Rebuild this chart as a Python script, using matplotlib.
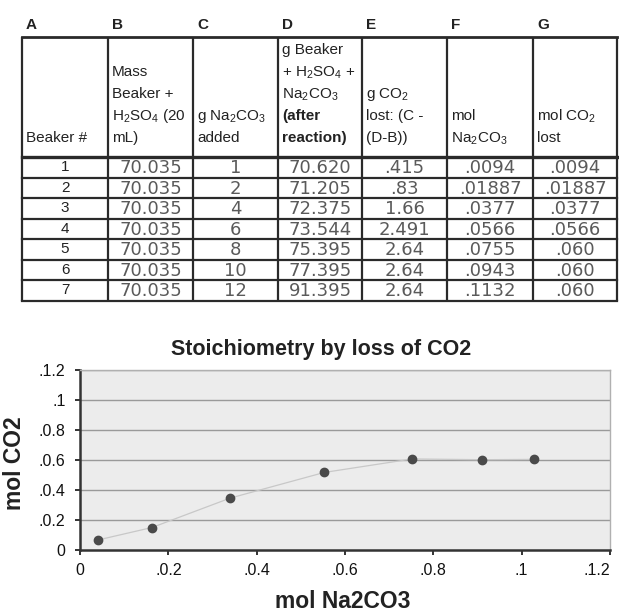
import matplotlib.pyplot as plt

plt.rcParams['font.family'] = ['Liberation Sans', 'DejaVu Sans']
plt.rcParams['mathtext.fontset'] = 'custom'
plt.rcParams['mathtext.rm'] = 'Liberation Sans'
plt.rcParams['mathtext.bf'] = 'Liberation Sans:bold'

# 表格内容
col_letters = ['A', 'B', 'C', 'D', 'E', 'F', 'G']
headers = [
    ['Beaker #'],
    ['Mass', 'Beaker +', r'H$_2$SO$_4$ (20', 'mL)'],
    [r'g Na$_2$CO$_3$', 'added'],
    ['g Beaker', r'+ H$_2$SO$_4$ +', r'Na$_2$CO$_3$', '(after', 'reaction)'],
    [r'g CO$_2$', 'lost: (C -', '(D-B))'],
    ['mol', r'Na$_2$CO$_3$'],
    [r'mol CO$_2$', 'lost'],
]
bold_lines = ['(after', 'reaction)']

beaker = ['1', '2', '3', '4', '5', '6', '7']
mass_beaker_acid = ['70.035', '70.035', '70.035', '70.035', '70.035', '70.035', '70.035']
g_na2co3_added = ['1', '2', '4', '6', '8', '10', '12']
g_after = ['70.620', '71.205', '72.375', '73.544', '75.395', '77.395', '91.395']
g_co2_lost = ['.415', '.83', '1.66', '2.491', '2.64', '2.64', '2.64']
mol_na2co3 = ['.0094', '.01887', '.0377', '.0566', '.0755', '.0943', '.1132']
mol_co2_lost = ['.0094', '.01887', '.0377', '.0566', '.060', '.060', '.060']

# 图中的点（按图上刻度读取）
x_pts = [0.041, 0.163, 0.340, 0.553, 0.752, 0.911, 1.027]
y_pts = [0.067, 0.150, 0.346, 0.517, 0.607, 0.602, 0.604]
tick_vals = [0, 0.2, 0.4, 0.6, 0.8, 1.0, 1.2]
x_tick_labels = ['0', '.0.2', '.0.4', '.0.6', '.0.8', '.1', '.1.2']
y_tick_labels = ['0', '.0.2', '.0.4', '.0.6', '.0.8', '.1', '.1.2']

W, H = 619, 613
fig = plt.figure(figsize=(W / 100, H / 100), dpi=100)

# ---- 表格（像素坐标）----
tax = fig.add_axes([0, 0, 1, 1])
tax.set_xlim(0, W)
tax.set_ylim(H, 0)
tax.axis('off')

col_x = [22, 108, 193, 278, 362, 447, 533, 617]
head_top, head_bot, row_h = 37, 157, 20.5
n_rows = len(beaker)
tab_bot = head_bot + n_rows * row_h
line_c = '#2a2a2a'

for x in col_x:
    tax.plot([x, x], [head_top, tab_bot], color=line_c, lw=1.6, solid_capstyle='butt')
tax.plot([col_x[0], col_x[-1]], [head_top, head_top], color=line_c, lw=2.0)
tax.plot([col_x[0], col_x[-1]], [head_bot, head_bot], color=line_c, lw=2.4)
for i in range(1, n_rows + 1):
    y = head_bot + i * row_h
    tax.plot([col_x[0], col_x[-1]], [y, y], color=line_c, lw=1.6)

for j, letter in enumerate(col_letters):
    tax.text(col_x[j] + 4, 25, letter, fontsize=11, fontweight='bold',
             ha='left', va='center', color='#222')
    lines = headers[j]
    for k, txt in enumerate(reversed(lines)):
        tax.text(col_x[j] + 4, 142 - 22 * k, txt, fontsize=11, ha='left', va='baseline',
                 color='#222', fontweight='bold' if txt in bold_lines else 'normal')

hand_cols = [mass_beaker_acid, g_na2co3_added, g_after, g_co2_lost, mol_na2co3, mol_co2_lost]
for i in range(n_rows):
    yc = head_bot + (i + 0.5) * row_h
    tax.text((col_x[0] + col_x[1]) / 2, yc, beaker[i], fontsize=11, ha='center',
             va='center', color='#222')
    for j, col in enumerate(hand_cols):
        xc = (col_x[j + 1] + col_x[j + 2]) / 2
        tax.text(xc, yc + 1, col[i], fontsize=13, family='DejaVu Sans', ha='center',
                 va='center', color='#5a5a5a')

# ---- 散点图 ----
ax = fig.add_axes([80 / W, 1 - 550 / H, 530 / W, 180 / H])
ax.set_facecolor('#ececec')
ax.set_xlim(0, 1.2)
ax.set_ylim(0, 1.2)
for v in tick_vals[1:]:
    ax.axhline(v, color='#9a9a9a', lw=1.0, zorder=1)
ax.plot(x_pts, y_pts, color='#c8c8c8', lw=0.9, zorder=2)
ax.plot(x_pts, y_pts, 'o', ms=6, color='#4a4a4a', zorder=3, linestyle='none')

ax.set_xticks(tick_vals)
ax.set_xticklabels(x_tick_labels)
ax.set_yticks(tick_vals)
ax.set_yticklabels(y_tick_labels)
ax.tick_params(direction='out', length=3.5, width=1.4, color='#333',
               labelsize=11.5, labelcolor='#111')
ax.tick_params(axis='x', pad=6)
ax.tick_params(axis='y', pad=7)
# 最右侧标签靠右对齐，避免被裁掉
ax.get_xticklabels()[-1].set_ha('right')

for s in ['left', 'bottom']:
    ax.spines[s].set_color('#333')
    ax.spines[s].set_linewidth(1.8)
for s in ['top', 'right']:
    ax.spines[s].set_color('#b0b0b0')
    ax.spines[s].set_linewidth(1.0)

fig.text(321 / W, 1 - 350 / H, 'Stoichiometry by loss of CO2', fontsize=15.5,
         fontweight='bold', ha='center', va='center', color='#222')
fig.text(343 / W, 1 - 601 / H, 'mol Na2CO3', fontsize=16.5, fontweight='bold',
         ha='center', va='center', color='#222')
fig.text(15 / W, 1 - 463 / H, 'mol CO2', fontsize=16.5, fontweight='bold', rotation=90,
         ha='center', va='center', color='#222')

fig.savefig('out.png', dpi=100)
